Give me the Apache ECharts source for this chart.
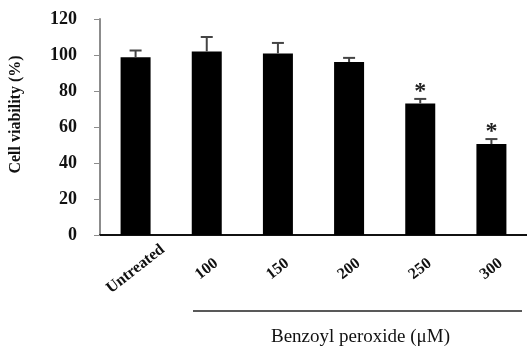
<!DOCTYPE html>
<html>
<head>
<meta charset="utf-8">
<script src="https://cdn.jsdelivr.net/npm/echarts@6/dist/echarts.min.js"></script>
<style>
html,body{margin:0;padding:0;background:#fff;}
#chart{width:527px;height:352px;}
</style>
</head>
<body>
<div id="chart"></div>
<script>
const categories = ['Untreated', '100', '150', '200', '250', '300'];
const viability = [98.8, 102, 100.9, 96.1, 73.1, 50.5];
const sdUpper = [3.7, 8, 5.8, 2.3, 2.5, 2.8];
const significant = [false, false, false, false, true, true];
const yTicks = [0, 20, 40, 60, 80, 100, 120];

const serif = '"Liberation Serif", "Times New Roman", serif';
const chart = echarts.init(document.getElementById('chart'));

const option = {
  animation: false,
  backgroundColor: '#fff',
  grid: { left: 94, top: 19, width: 439, height: 226.5, containLabel: false },
  xAxis: {
    type: 'category',
    data: categories,
    name: 'Benzoyl peroxide (\u03bcM)',
    nameLocation: 'middle',
    nameGap: 93,
    nameTextStyle: { fontFamily: serif, fontSize: 19, color: '#111', padding: [0, 0, 0, 94] },
    axisLine: { lineStyle: { color: '#111', width: 2 } },
    axisTick: { show: false },
    axisLabel: {
      rotate: 38,
      align: 'center',
      verticalAlign: 'middle',
      margin: 34,
      fontFamily: serif,
      fontWeight: 'bold',
      fontSize: 16,
      color: '#111'
    }
  },
  yAxis: {
    type: 'value',
    min: yTicks[0],
    max: yTicks[yTicks.length - 1],
    interval: 20,
    name: 'Cell viability (%)',
    nameLocation: 'middle',
    nameGap: 76,
    nameRotate: 90,
    nameTextStyle: { fontFamily: serif, fontWeight: 'bold', fontSize: 16, color: '#111', padding: [0, 0, 0, 25] },
    axisLine: { show: true, lineStyle: { color: '#8c8c8c', width: 2 } },
    axisTick: { show: true, length: 6, lineStyle: { color: '#8c8c8c', width: 1 } },
    splitLine: { show: false },
    axisLabel: {
      margin: 23,
      fontFamily: serif,
      fontWeight: 'bold',
      fontSize: 18,
      color: '#111'
    }
  },
  series: [
    {
      type: 'bar',
      data: viability,
      barWidth: 30,
      itemStyle: { color: '#000' },
      z: 2
    },
    {
      type: 'custom',
      z: 3,
      data: categories.map((c, i) => [i, viability[i], viability[i] + sdUpper[i], significant[i] ? 1 : 0]),
      renderItem: function (params, api) {
        const base = api.coord([api.value(0), api.value(1)]);
        const top = api.coord([api.value(0), api.value(2)]);
        const children = [
          { type: 'line', shape: { x1: base[0], y1: base[1], x2: top[0], y2: top[1] }, style: { stroke: '#444', lineWidth: 2 } },
          { type: 'line', shape: { x1: top[0] - 6, y1: top[1], x2: top[0] + 6, y2: top[1] }, style: { stroke: '#444', lineWidth: 2 } }
        ];
        if (api.value(3) === 1) {
          children.push({
            type: 'text',
            style: {
              text: '*', x: top[0], y: top[1] + 5, align: 'center', verticalAlign: 'bottom',
              fontFamily: serif, fontWeight: 'bold', fontSize: 24, fill: '#222'
            }
          });
        }
        return { type: 'group', children: children };
      }
    }
  ],
  graphic: [
    { type: 'line', shape: { x1: 193, y1: 311, x2: 522, y2: 311 }, style: { stroke: '#222', lineWidth: 1.5 } }
  ]
};
chart.setOption(option);
</script>
</body>
</html>
